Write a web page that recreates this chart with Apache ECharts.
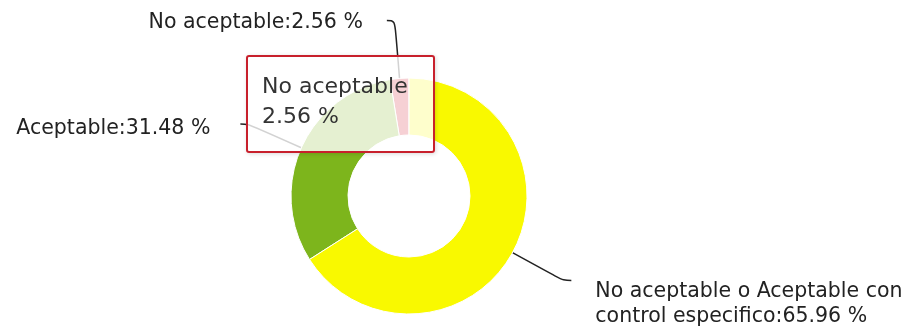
<!DOCTYPE html>
<html>
<head>
<meta charset="utf-8">
<script src="https://cdn.jsdelivr.net/npm/echarts@6/dist/echarts.min.js"></script>
<style>
html,body{margin:0;padding:0;background:#fff;}
#chart{width:918px;height:328px;}
</style>
</head>
<body>
<div id="chart"></div>
<script>
const categories = ['No aceptable', 'Aceptable', 'No aceptable o Aceptable con control especifico'];
const values = [2.56, 31.48, 65.96];
const colors = ['#d2182a', '#7db51c', '#f9f900'];

const chart = echarts.init(document.getElementById('chart'), null, {renderer: 'canvas'});
const labelTweaks = [
  {},
  {distanceToLabelLine: 30},
  {width: 322, overflow: 'break'}
];
const labelShiftY = [2, 5, 24];
const data = categories.map((c, i) => ({
  name: c,
  value: values[i],
  itemStyle: {color: colors[i]},
  label: labelTweaks[i]
}));
chart.setOption({
  animation: false,
  backgroundColor: '#fff',
  tooltip: {
    trigger: 'item',
    triggerOn: 'none',
    alwaysShowContent: true,
    transitionDuration: 0,
    position: [246, 55],
    backgroundColor: 'rgba(255,255,255,0.8)',
    borderColor: '#c8202c',
    borderWidth: 2,
    borderRadius: 3,
    padding: [14, 25, 20, 14],
    textStyle: {fontFamily: 'DejaVu Sans', fontSize: 22, color: '#333', lineHeight: 30},
    extraCssText: 'box-shadow: 1px 1px 4px rgba(0,0,0,0.15);',
    formatter: p => p.name + '<br/>' + p.value.toFixed(2) + ' %'
  },
  series: [{
    type: 'pie',
    center: [409, 196],
    radius: [61, 118],
    startAngle: 90,
    clockwise: false,
    avoidLabelOverlap: false,
    itemStyle: {borderColor: '#fff', borderWidth: 1},
    emphasis: {disabled: true},
    label: {
      show: true,
      fontFamily: 'DejaVu Sans',
      fontSize: 20.5,
      color: '#222',
      lineHeight: 25,
      distanceToLabelLine: 24,
      formatter: p => p.name + ':' + p.value.toFixed(2) + ' %'
    },
    labelLine: {
      show: true,
      length: 58,
      length2: 8,
      smooth: 0.4,
      lineStyle: {color: '#222', width: 1.5}
    },
    labelLayout: p => ({dy: labelShiftY[p.dataIndex]}),
    data: data
  }]
});
setTimeout(() => chart.dispatchAction({type: 'showTip', seriesIndex: 0, dataIndex: 0}), 0);
chart.dispatchAction({type: 'showTip', seriesIndex: 0, dataIndex: 0});
</script>
</body>
</html>
